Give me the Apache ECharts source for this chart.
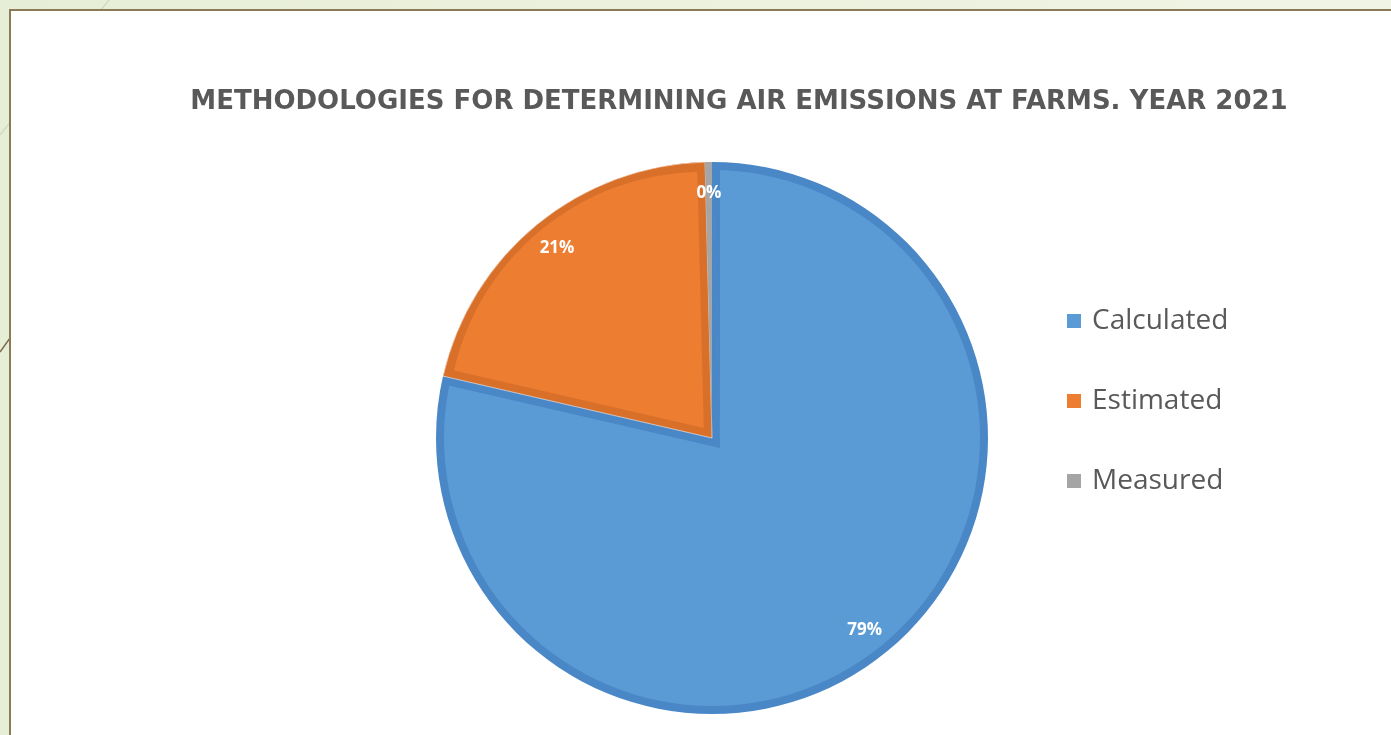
<!DOCTYPE html>
<html><head><meta charset="utf-8">
<script src="https://cdn.jsdelivr.net/npm/echarts@6/dist/echarts.min.js"></script>
<style>html,body{margin:0;padding:0;width:1391px;height:735px;overflow:hidden;background:#e9efd9}#chart{width:1391px;height:735px}</style>
</head><body><div id="chart"></div>
<script>
const categories = ['Calculated', 'Estimated', 'Measured'];
const values = [78.6, 21.0, 0.4];
const titleText = 'METHODOLOGIES FOR DETERMINING AIR EMISSIONS AT FARMS. YEAR 2021';
const fillColors = ['#5B9BD5', '#ED7D31', '#A5A5A5'];
const bandColors = ['#4A87C6', '#D8702A', '#9A9A9A'];
const T = 'rgba(0,0,0,0)';

const CX = 712, CY = 438, R = 276, W = 8;
const total = values.reduce((a, b) => a + b, 0);
const fC = values[0] / total, fE = values[1] / total;
const rad = Math.PI / 180;
function dir(deg) { return [Math.cos(deg * rad), -Math.sin(deg * rad)]; }
const thC = 90 - fC * 180;
const halfX = (1 - fC) * 180;
const s3 = W / Math.sin(halfX * rad);
const dC = dir(thC);
const thE = 90 - (fC + fE / 2) * 360;
const halfE = fE * 180;
const sE = W / Math.sin(halfE * rad);
const dE = dir(thE);
const rE = R - W - sE * (1 + Math.cos(halfE * rad)) / 2;

function layer(center, radius, colors, z, extra, itemExtra) {
  return Object.assign({
    type: 'pie', center: center, radius: radius, startAngle: 90, clockwise: true, z: z,
    silent: true, animation: false, avoidLabelOverlap: false, legendHoverLink: false,
    label: { show: false }, labelLine: { show: false }, emphasis: { disabled: true },
    itemStyle: { borderWidth: 0 },
    data: categories.map((n, i) => ({
      name: n, value: values[i],
      itemStyle: Object.assign({ color: colors[i], borderWidth: 0 }, (itemExtra && itemExtra[i]) || {})
    }))
  }, extra || {});
}

const series = [
  layer([CX, CY], [0, R], bandColors, 2),
  layer([CX, CY], [0, R - W], [fillColors[0], T, T], 3),
  layer([CX + s3 * dC[0], CY + s3 * dC[1]], [0, R - W + s3], [T, bandColors[0], bandColors[0]], 4),
  layer([CX, CY], [0, R], [T, bandColors[1], fillColors[2]], 5, null,
        [null, { borderWidth: 1, borderColor: 'rgba(255,255,255,0.55)' }, null]),
  layer([CX + sE * dE[0], CY + sE * dE[1]], [0, rE], [T, fillColors[1], T], 6),
  layer([CX, CY], [208, R], [T, T, T], 7, {
    label: {
      show: true, position: 'inside', color: '#ffffff', fontFamily: 'Open Sans',
      fontWeight: 'bold', fontSize: 17,
      formatter: p => Math.round(p.percent) + '%'
    }
  })
];

const chart = echarts.init(document.getElementById('chart'));
chart.setOption({
  backgroundColor: '#e9efd9',
  graphic: [
    { type: 'rect', z: 0, shape: { x: 0, y: 0, width: 1391, height: 735 },
      style: { fill: new echarts.graphic.LinearGradient(0, 0, 1, 0, [
        { offset: 0, color: '#e7eed6' }, { offset: 1, color: '#f0f4e5' }]) } },
    { type: 'line', z: 1, shape: { x1: 109, y1: 0, x2: 0, y2: 135 },
      style: { stroke: '#d2dabd', lineWidth: 1.5 } },
    { type: 'line', z: 1, shape: { x1: 0, y1: 352, x2: 40, y2: 296 },
      style: { stroke: '#7d6c4b', lineWidth: 1.5 } },
    { type: 'rect', z: 2, shape: { x: 10, y: 10, width: 1400, height: 760 },
      style: { fill: '#ffffff', stroke: '#8a7a56', lineWidth: 2 } }
  ],
  title: {
    text: titleText, left: 734, top: 84, textAlign: 'center',
    textStyle: { fontFamily: 'DejaVu Sans', fontWeight: 'bold', fontSize: 26, color: '#595959' }
  },
  legend: {
    orient: 'vertical', left: 1062, top: 301, itemWidth: 14, itemHeight: 14, itemGap: 50,
    icon: 'rect', selectedMode: false,
    textStyle: { fontFamily: 'Open Sans', fontSize: 28, color: '#595959', lineHeight: 30, padding: [0, 0, 0, 6] },
    data: categories.map((n, i) => ({ name: n, itemStyle: { color: fillColors[i], borderWidth: 0 } }))
  },
  series: series
});
</script>
</body></html>
